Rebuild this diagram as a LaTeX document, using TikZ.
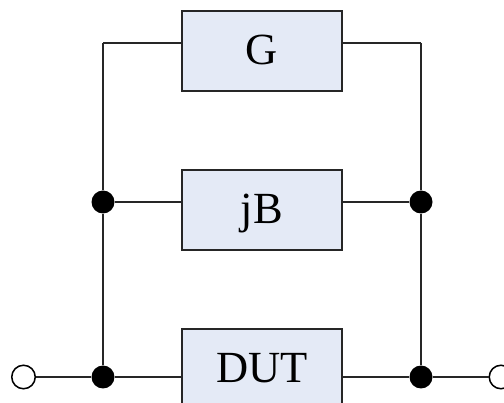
\documentclass[tikz,border=0pt]{standalone}
\usepackage{fontspec}
\setmainfont{Liberation Serif}
\definecolor{boxfill}{RGB}{228,234,246}
\tikzset{
  box/.style={draw=black!85,line width=2pt,fill=boxfill,minimum width=159.5pt,minimum height=79.5pt,inner sep=0pt,font=\fontsize{44.5}{44.5}\selectfont,text=black,text height=26.8pt,text depth=0pt},
  wire/.style={draw=black!85,line width=2pt},
  dot/.style={circle,fill=black,minimum size=23pt,inner sep=0pt},
  port/.style={circle,draw=black,fill=white,line width=1.5pt,minimum size=23.5pt,inner sep=0pt}
}
\begin{document}
\begin{tikzpicture}[x=1pt,y=-1pt]
\path[use as bounding box] (0,0) rectangle (504,403);
\clip (0,0) rectangle (504,403);
\coordinate (gl) at (103,43);
\coordinate (gr) at (421,43);
\node[dot] (bl) at (103,202) {};
\node[dot] (br) at (421,202) {};
\node[dot] (dl) at (103,377) {};
\node[dot] (dr) at (421,377) {};
\node[port] (pl) at (23.5,377) {};
\node[port] (pr) at (501,377) {};
\draw[wire] (gl) -- (bl) -- (dl);
\draw[wire] (gr) -- (br) -- (dr);
\node[box] (g) at (262,51) {G};
\node[box] (b) at (262,210) {jB};
\node[box] (d) at (262,369) {DUT};
\draw[wire] (g.west |- gl) -- (gl);
\draw[wire] (g.east |- gr) -- (gr);
\draw[wire] (b.west |- bl) -- (bl);
\draw[wire] (b.east |- br) -- (br);
\draw[wire] (d.west |- dl) -- (dl) -- (pl);
\draw[wire] (d.east |- dr) -- (dr) -- (pr);
\end{tikzpicture}
\end{document}
